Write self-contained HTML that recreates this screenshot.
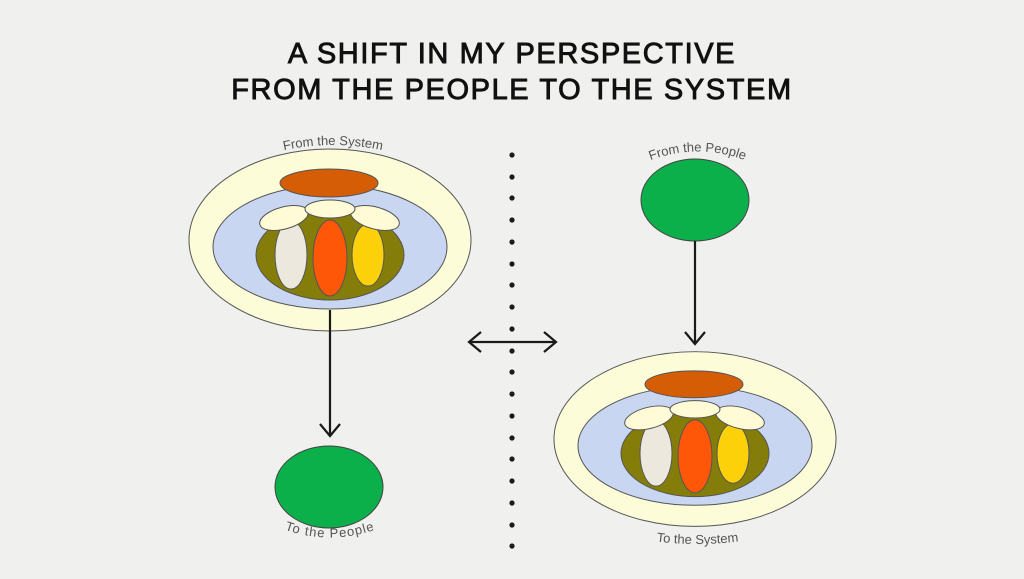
<!DOCTYPE html>
<html><head><style>
html,body{margin:0;padding:0;background:#f0f0ee;}
svg{display:block;}
text{font-family:"Liberation Sans",sans-serif;}
</style></head><body>
<svg width="1024" height="579" viewBox="0 0 1024 579" xmlns="http://www.w3.org/2000/svg">
<rect width="1024" height="579" fill="#f0f0ee"/>
<text x="512" y="63" text-anchor="middle" font-size="29" fill="#111" stroke="#111" stroke-width="0.9" letter-spacing="1.6">A SHIFT IN MY PERSPECTIVE</text>
<text x="512" y="99" text-anchor="middle" font-size="29" fill="#111" stroke="#111" stroke-width="0.9" letter-spacing="1.6">FROM THE PEOPLE TO THE SYSTEM</text>
<defs>
<g id="sys" stroke="#555" stroke-width="1">
<ellipse cx="330" cy="240" rx="141" ry="91" fill="#fdfcd8"/>
<ellipse cx="330" cy="247" rx="117" ry="62" fill="#c8d6f2"/>
<ellipse cx="330" cy="255" rx="74" ry="45" fill="#857d0a"/>
<ellipse cx="329" cy="183" rx="49" ry="14" fill="#d45d06"/>
<ellipse cx="291" cy="255" rx="16" ry="34" fill="#ece8de"/>
<ellipse cx="330" cy="258" rx="17" ry="38" fill="#fe5708"/>
<ellipse cx="368" cy="255" rx="16" ry="31" fill="#fdd10a"/>
<ellipse cx="284" cy="218" rx="25" ry="11" fill="#fefbd6" transform="rotate(-15 284 218)"/>
<ellipse cx="375" cy="218" rx="25" ry="11" fill="#fefbd6" transform="rotate(15 375 218)"/>
<ellipse cx="330" cy="209" rx="25" ry="9" fill="#fefbd6"/>
</g>
<path id="p1" d="M250 160 Q333 130 416 160"/>
<path id="p2" d="M615 178 Q698 125 780 178"/>
<path id="p3" d="M262 520 Q330 555 398 520"/>
<path id="p4" d="M620 535 Q697 553 775 535"/>
</defs>
<use href="#sys"/>
<use href="#sys" transform="translate(365,200) scale(1,0.96) translate(0,9)"/>
<ellipse cx="329" cy="487" rx="54" ry="41" fill="#0bb04a" stroke="#444"/>
<ellipse cx="695" cy="200" rx="54" ry="41" fill="#0bb04a" stroke="#444"/>
<g stroke="#1a1a1a" stroke-width="2.2" fill="none">
<line x1="330" y1="310" x2="330" y2="436"/>
<polyline points="320,424 330,436 340,424"/>
<line x1="695" y1="241" x2="695" y2="344"/>
<polyline points="685,332 695,344 705,332"/>
<line x1="469" y1="342" x2="556" y2="342"/>
<polyline points="481,332 469,342 481,352"/>
<polyline points="544,332 556,342 544,352"/>
</g>
<g fill="#1a1a1a">
<circle cx="512" cy="155" r="2.6"/><circle cx="512" cy="177" r="2.6"/><circle cx="512" cy="198" r="2.6"/><circle cx="512" cy="220" r="2.6"/><circle cx="512" cy="242" r="2.6"/><circle cx="512" cy="264" r="2.6"/><circle cx="512" cy="285" r="2.6"/><circle cx="512" cy="307" r="2.6"/><circle cx="512" cy="329" r="2.6"/><circle cx="512" cy="351" r="2.6"/><circle cx="512" cy="372" r="2.6"/><circle cx="512" cy="394" r="2.6"/><circle cx="512" cy="416" r="2.6"/><circle cx="512" cy="438" r="2.6"/><circle cx="512" cy="459" r="2.6"/><circle cx="512" cy="481" r="2.6"/><circle cx="512" cy="503" r="2.6"/><circle cx="512" cy="525" r="2.6"/><circle cx="512" cy="546" r="2.6"/>
</g>
<g font-size="13" fill="#555">
<text><textPath href="#p1" startOffset="50%" text-anchor="middle">From the System</textPath></text>
<text><textPath href="#p2" startOffset="50%" text-anchor="middle">From the People</textPath></text>
<text><textPath href="#p3" startOffset="50%" text-anchor="middle" letter-spacing="1">To the People</textPath></text>
<text><textPath href="#p4" startOffset="50%" text-anchor="middle">To the System</textPath></text>
</g>
</svg>
</body></html>
